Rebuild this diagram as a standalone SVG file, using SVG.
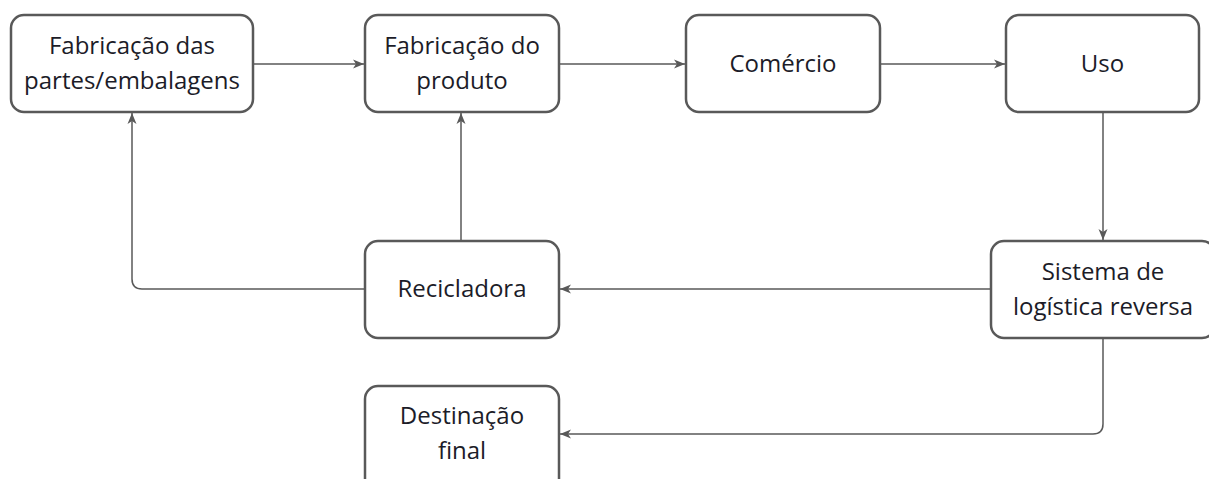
<svg xmlns="http://www.w3.org/2000/svg" width="1209" height="479" viewBox="0 0 1209 479">
<style>
.box{fill:#fff;stroke:#595959;stroke-width:2.5}
.lbl{font-family:"Open Sans","Liberation Sans",sans-serif;font-size:24px;fill:#1c1c28;text-anchor:middle}
.con{fill:none;stroke:#595959;stroke-width:1.5}
</style>
<defs>
<marker id="arr" markerUnits="userSpaceOnUse" markerWidth="12" markerHeight="10" viewBox="0 0 12 10" refX="11" refY="5" orient="auto">
<path d="M0,0.5 L11,5 L0,9.5 L3,5 Z" fill="#595959"/>
</marker>
</defs>
<rect width="1209" height="479" fill="#fff"/>
<g id="connectors">
<path class="con" d="M253,64 H364" marker-end="url(#arr)"/>
<path class="con" d="M559,64 H685" marker-end="url(#arr)"/>
<path class="con" d="M880,64 H1005" marker-end="url(#arr)"/>
<path class="con" d="M1103,112 V240" marker-end="url(#arr)"/>
<path class="con" d="M991,289 H560" marker-end="url(#arr)"/>
<path class="con" d="M461,241 V113" marker-end="url(#arr)"/>
<path class="con" d="M365,289 H142 Q132,289 132,279 V113" marker-end="url(#arr)"/>
<path class="con" d="M1103,338 V424 Q1103,434 1093,434 H560" marker-end="url(#arr)"/>
</g>
<g id="n1">
<rect class="box" x="11" y="15" width="242" height="97" rx="13"/>
<text class="lbl" x="132" y="54">Fabricação das</text>
<text class="lbl" x="132" y="88.5">partes/embalagens</text>
</g>
<g id="n2">
<rect class="box" x="365" y="15" width="194" height="97" rx="13"/>
<text class="lbl" x="462" y="54">Fabricação do</text>
<text class="lbl" x="462" y="88.5">produto</text>
</g>
<g id="n3">
<rect class="box" x="686" y="15" width="194" height="97" rx="13"/>
<text class="lbl" x="783" y="72">Comércio</text>
</g>
<g id="n4">
<rect class="box" x="1006" y="15" width="193" height="97" rx="13"/>
<text class="lbl" x="1102.5" y="72">Uso</text>
</g>
<g id="n5">
<rect class="box" x="365" y="241" width="194" height="97" rx="13"/>
<text class="lbl" x="462" y="297">Recicladora</text>
</g>
<g id="n6">
<rect class="box" x="991" y="241" width="224" height="97" rx="13"/>
<text class="lbl" x="1103" y="280">Sistema de</text>
<text class="lbl" x="1103" y="314.5">logística reversa</text>
</g>
<g id="n7">
<rect class="box" x="365" y="386" width="194" height="110" rx="13"/>
<text class="lbl" x="462" y="424">Destinação</text>
<text class="lbl" x="462" y="459">final</text>
</g>
</svg>
